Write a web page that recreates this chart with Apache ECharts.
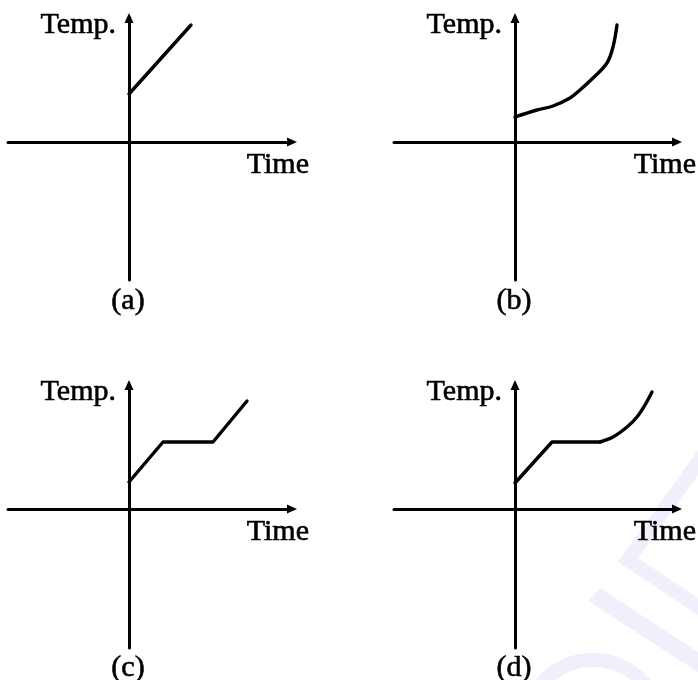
<!DOCTYPE html>
<html>
<head>
<meta charset="utf-8">
<style>
  html, body { margin: 0; padding: 0; background: #ffffff; }
  #chart { width: 698px; height: 680px; }
</style>
<script src="https://cdn.jsdelivr.net/npm/echarts@6/dist/echarts.min.js"></script>
</head>
<body>
<div id="chart"></div>
<script>
// Axis titles and panel captions
const yAxisName = 'Temp.';
const xAxisName = 'Time';
const panelLabels = ['(a)', '(b)', '(c)', '(d)'];

// Heating curves, [time, temperature] in arbitrary units (origin = where the axes cross)
const curveA = [[0, 4.8], [6.2, 11.7]];
const curveB = [[0, 2.5], [2.2, 3.2], [3.8, 3.6], [5.5, 4.4], [6.5, 5.2], [7.8, 6.4], [9.2, 7.9], [9.8, 9.5], [10.2, 11.7]];
const curveC = [[0, 2.7], [3.4, 6.7], [8.4, 6.7], [11.8, 10.8]];
const curveDLinear = [[0, 2.6], [3.7, 6.7], [8.5, 6.7]];
const curveDRise = [[8.5, 6.7], [9.8, 7.2], [11.2, 8.2], [12.2, 9.2], [13.0, 10.4], [13.7, 11.7]];

// Axis ranges per panel
const xRanges = [[-12.1, 16.3], [-12.1, 16.2], [-12.1, 16.3], [-12.1, 16.2]];
const yRanges = [[-13.8, 12.4], [-13.8, 12.4], [-13.9, 12.4], [-13.9, 12.4]];

const chart = echarts.init(document.getElementById('chart'), null, { renderer: 'canvas' });

const grids = [
  { left: 8,   top: 18,  width: 284, height: 262 },
  { left: 394, top: 18,  width: 283, height: 262 },
  { left: 8,   top: 385, width: 284, height: 263 },
  { left: 394, top: 385, width: 283, height: 263 }
];

const axisLine = {
  show: true,
  onZero: true,
  symbol: ['none', 'triangle'],
  symbolSize: [9, 10],
  lineStyle: { color: '#000', width: 3 }
};

const xAxes = xRanges.map((r, i) => ({
  type: 'value', gridIndex: i, min: r[0], max: r[1],
  axisLine: Object.assign({ onZeroAxisIndex: i }, axisLine),
  axisTick: { show: false }, axisLabel: { show: false }, splitLine: { show: false }
}));
const yAxes = yRanges.map((r, i) => ({
  type: 'value', gridIndex: i, min: r[0], max: r[1],
  axisLine: Object.assign({ onZeroAxisIndex: i }, axisLine),
  axisTick: { show: false }, axisLabel: { show: false }, splitLine: { show: false }
}));

function curve(data, idx, smooth) {
  return {
    type: 'line', xAxisIndex: idx, yAxisIndex: idx, data: data,
    smooth: smooth || false, showSymbol: false, silent: true, z: 3,
    lineStyle: { color: '#000', width: 3.4, cap: 'round', join: 'round' }
  };
}

const font = '30px "Liberation Serif", "Times New Roman", serif';
function label(text, x, y, align) {
  return {
    type: 'text', x: x, y: y, z: 10,
    style: {
      text: text, font: font, fill: '#000', stroke: '#000', lineWidth: 0.6,
      textAlign: align, align: align, textVerticalAlign: 'middle', verticalAlign: 'middle'
    }
  };
}

// Per-panel text anchors: panel origins are offset by 386 px horizontally and 367 px vertically
const colOffset = [0, 386, 0, 386];
const rowOffset = [0, 0, 367, 367];
const texts = [];
panelLabels.forEach((p, i) => {
  const dx = colOffset[i], dy = rowOffset[i];
  texts.push(label(yAxisName, 116 + dx, 25 + dy, 'right'));
  texts.push(label(xAxisName, 309 + dx + (i % 2 ? 1 : 0), 165 + dy, 'right'));
  texts.push(label(p, 128 + dx, 301 + dy, 'center'));
});

// Faint lavender background stripes in the lower right corner
const stripe = '#f0f0fc';
const backdrop = [
  { type: 'polygon', z: -10, silent: true,
    shape: { points: [[698, 450], [618, 562], [698, 615], [698, 598], [638, 558], [698, 475]] },
    style: { fill: stripe } },
  { type: 'polygon', z: -10, silent: true,
    shape: { points: [[600, 588], [698, 652], [698, 672], [588, 601]] },
    style: { fill: stripe } },
  { type: 'circle', z: -10, silent: true,
    shape: { cx: 593, cy: 728, r: 68 },
    style: { fill: 'none', stroke: stripe, lineWidth: 14 } }
];

chart.setOption({
  backgroundColor: '#ffffff',
  animation: false,
  grid: grids,
  xAxis: xAxes,
  yAxis: yAxes,
  series: [
    curve(curveA, 0),
    curve(curveB, 1, 0.35),
    curve(curveC, 2),
    curve(curveDLinear, 3),
    curve(curveDRise, 3, 0.35)
  ],
  graphic: backdrop.concat(texts)
});
</script>
</body>
</html>
